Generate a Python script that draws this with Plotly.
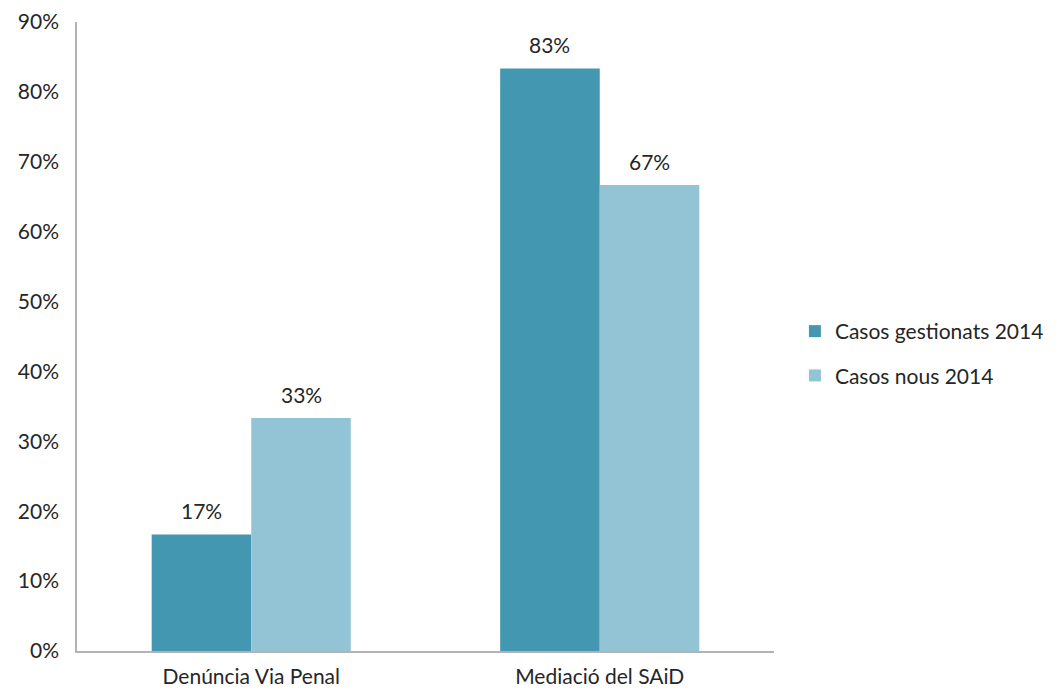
import plotly.graph_objects as go

categories = ["Denúncia Via Penal", "Mediació del SAiD"]
series_names = ["Casos gestionats 2014", "Casos nous 2014"]
gestionats = [1/6, 5/6]
nous = [1/3, 2/3]
colors = ["#4397b0", "#93c4d5"]

font_family = "Lato, 'Open Sans', sans-serif"
text_color = "#262626"
fsize = 21

fig = go.Figure()
for name, vals, col in zip(series_names, [gestionats, nous], colors):
    fig.add_trace(go.Bar(
        x=categories, y=vals, name=name, legendgroup=name,
        marker=dict(color=col, line=dict(width=0)),
    ))

# value labels above bars
for vals, shift in zip([gestionats, nous], [-50, 50]):
    for c, v in zip(categories, vals):
        fig.add_annotation(x=c, y=v, xref="x", yref="y", text=f"{v*100:.0f}%",
                           showarrow=False, xshift=shift, yshift=24,
                           font=dict(size=fsize, color=text_color, family=font_family))

fig.update_layout(
    width=1061, height=690,
    margin=dict(l=77, r=284, t=22, b=39),
    plot_bgcolor="white", paper_bgcolor="white",
    barmode="group", bargap=0.4286, bargroupgap=0,
    font=dict(family=font_family, size=fsize, color=text_color),
    showlegend=True,
    legend=dict(x=1.03, y=0.473, xanchor="left", yanchor="middle",
                traceorder="grouped", tracegroupgap=14,
                font=dict(size=fsize, color=text_color), itemwidth=30,
                bgcolor="rgba(0,0,0,0)"),
)
fig.update_yaxes(range=[0, 0.9], dtick=0.1, tickformat=".0%", showgrid=False,
                 showline=True, linecolor="#b3b3b3", linewidth=1.5,
                 ticks="", ticklabelstandoff=12, zeroline=False, automargin=False,
                 tickfont=dict(size=fsize, color=text_color))
fig.update_xaxes(showline=True, linecolor="#b3b3b3", linewidth=1.5,
                 ticks="", ticklabelstandoff=6, showgrid=False, automargin=False,
                 tickfont=dict(size=fsize, color=text_color))

fig.write_html("out.html", config={"displayModeBar": False})

# remove the default body margin so the figure sits at the page's top-left
with open("out.html", "r", encoding="utf-8") as f:
    html = f.read()
html = html.replace("<head>", "<head><style>html,body{margin:0;padding:0;overflow:hidden;}</style>", 1)
with open("out.html", "w", encoding="utf-8") as f:
    f.write(html)
